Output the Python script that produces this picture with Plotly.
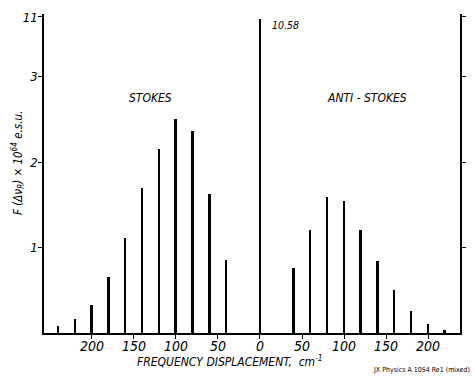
import plotly.graph_objects as go

# ---- data ----
stokes_shift = [-240, -220, -200, -180, -160, -140, -120, -100, -80, -60, -40]
stokes_vals = [0.08, 0.16, 0.33, 0.66, 1.11, 1.70, 2.16, 2.51, 2.37, 1.63, 0.85]
center_shift = [0]
center_vals = [10.58]
anti_shift = [40, 60, 80, 100, 120, 140, 160, 180, 200, 220]
anti_vals = [0.76, 1.21, 1.59, 1.54, 1.21, 0.84, 0.50, 0.26, 0.105, 0.04]

x_tickvals = [-200, -150, -100, -50, 0, 50, 100, 150, 200]
x_ticktext = ["200", "150", "100", "50", "0", "50", "100", "150", "200"]
y_tickvals = [1, 2, 3, 3.70]
y_ticktext = ["1", "2", "3", "11"]

Y_TOP = 3.735      # top of broken axis
Y_CLIP = 3.68      # where an off-scale bar is cut at the axis break

FONT = "DejaVu Sans Condensed, DejaVu Sans, sans-serif"
W, H = 475, 379
ML, MR, MT, MB = 44, 15, 14, 46
PW, PH = W - ML - MR, H - MT - MB

def px_to_paper(px, py):
    return (px - ML) / PW, (H - MB - py) / PH

def shown(vals):
    return [min(v, Y_CLIP) for v in vals]

def f(size, style="italic"):
    return dict(family=FONT, size=size, color="black", style=style)

fig = go.Figure()
for xs, ys in [(stokes_shift, stokes_vals), (center_shift, center_vals), (anti_shift, anti_vals)]:
    fig.add_trace(go.Bar(x=xs, y=shown(ys), width=2.3,
                         marker=dict(color="black", line=dict(width=0)),
                         showlegend=False, hoverinfo="skip"))

fig.update_layout(
    width=W, height=H,
    margin=dict(l=ML, r=MR, t=MT, b=MB, autoexpand=False),
    paper_bgcolor="white", plot_bgcolor="white",
    bargap=0,
    font=f(13),
    xaxis=dict(range=[-257, 238], tickvals=x_tickvals, ticktext=x_ticktext,
               ticks="outside", ticklen=4, tickwidth=1.3, tickcolor="black",
               ticklabelstandoff=-5,
               showline=True, linecolor="black", linewidth=1.5,
               showgrid=False, zeroline=False, automargin=False,
               tickfont=f(14)),
    yaxis=dict(range=[0, Y_TOP], tickvals=y_tickvals, ticktext=y_ticktext,
               ticks="outside", ticklen=4, tickwidth=1.3, tickcolor="black",
               ticklabelstandoff=-2,
               showline=True, linecolor="black", linewidth=1.5, mirror="ticks",
               showgrid=False, zeroline=False, automargin=False,
               tickfont=f(13)),
)

fig.add_annotation(x=center_shift[0], y=3.61, xref="x", yref="y", text=f"{center_vals[0]:.2f}",
                   xanchor="left", yanchor="middle", xshift=10, showarrow=False, font=f(10.5))
fig.add_annotation(x=-130, y=2.75, xref="x", yref="y", text="STOKES",
                   xanchor="center", yanchor="middle", showarrow=False, font=f(12))
fig.add_annotation(x=127, y=2.75, xref="x", yref="y", text="ANTI - STOKES",
                   xanchor="center", yanchor="middle", showarrow=False, font=f(12))

px, py = px_to_paper(230, 361)
fig.add_annotation(x=px, y=py, xref="paper", yref="paper", text="FREQUENCY DISPLACEMENT,  cm<sup>-1</sup>",
                   xanchor="center", yanchor="middle", showarrow=False, font=f(12))
px, py = px_to_paper(18, 163)
fig.add_annotation(x=px, y=py, xref="paper", yref="paper", text="F (Δν<sub>R</sub>) × 10<sup>64</sup> e.s.u.",
                   xanchor="center", yanchor="middle", textangle=-90, showarrow=False, font=f(11.5))
px, py = px_to_paper(421, 370)
fig.add_annotation(x=px, y=py, xref="paper", yref="paper", text="JX Physics A 10S4 Re1 (mixed)",
                   xanchor="center", yanchor="middle", showarrow=False, font=f(7, "normal"))

fig.write_html("out.html", config={"displayModeBar": False},
               post_script="document.body.style.margin='0';")
